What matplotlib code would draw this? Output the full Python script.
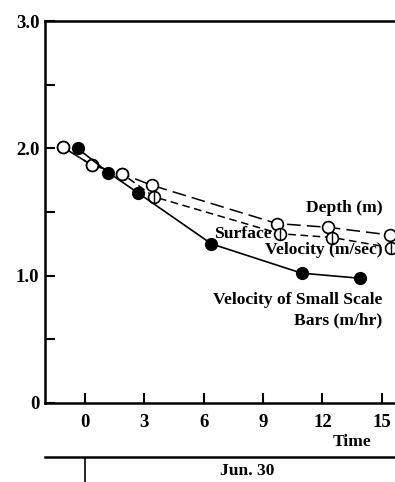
import matplotlib
matplotlib.use("Agg")
import matplotlib.pyplot as plt

plt.rcParams['font.family'] = ['Liberation Serif', 'DejaVu Serif']

# Depth (m) - open circles, long dashes
depth_t = [-1.1, 0.35, 1.9, 3.4, 9.7, 12.3, 15.4]
depth_v = [2.01, 1.87, 1.80, 1.71, 1.41, 1.38, 1.32]

# Surface velocity (m/sec) - barred open circles, short dashes
vel_t = [-1.1, 0.35, 1.9, 3.5, 9.85, 12.5, 15.45]
vel_v = [2.01, 1.87, 1.80, 1.62, 1.33, 1.30, 1.22]

# Velocity of small scale bars (m/hr) - filled circles, solid
bars_t = [-0.35, 1.2, 2.7, 6.4, 10.95, 13.9]
bars_v = [2.00, 1.81, 1.65, 1.25, 1.02, 0.98]

xticks = [0, 3, 6, 9, 12, 15]
yticks = [0, 1.0, 2.0, 3.0]
ytick_labels = ['0', '1.0', '2.0', '3.0']

fig = plt.figure(figsize=(3.95, 4.82), dpi=100)
ax = fig.add_axes([0.114, 0.164, 0.886, 0.792])

ax.plot(depth_t, depth_v, color='black', lw=1.1, ls=(0, (9, 4)),
        marker='o', ms=8.5, mfc='white', mec='black', mew=1.2, zorder=3)
ax.plot(vel_t, vel_v, color='black', lw=1.1, ls=(0, (5, 3)),
        marker='o', ms=8.5, mfc='white', mec='black', mew=1.2, zorder=3)
# vertical bar inside the surface-velocity circles
ax.plot(vel_t[3:], vel_v[3:], ls='none', marker='|', ms=8, mec='black', mew=1.0, zorder=4)
ax.plot(bars_t, bars_v, color='black', lw=1.2, ls='-',
        marker='o', ms=8.5, mfc='black', mec='black', zorder=3)

ax.set_xlim(-2.0, 15.66)
ax.set_ylim(0, 3.0)
ax.set_xticks(xticks)
ax.set_xticklabels([str(t) for t in xticks])
ax.set_yticks(yticks)
ax.set_yticklabels(ytick_labels)
ax.set_yticks([0.5, 1.5, 2.5], minor=True)
ax.tick_params(axis='both', which='both', direction='in', length=7, width=1.5,
               labelsize=13.5)
ax.tick_params(axis='x', pad=8)
ax.tick_params(axis='y', pad=4)
for lbl in ax.get_xticklabels() + ax.get_yticklabels():
    lbl.set_fontweight('bold')
ax.spines['right'].set_visible(False)
for s in ['left', 'bottom', 'top']:
    ax.spines[s].set_linewidth(1.8)

tk = dict(fontsize=12.6, fontweight='bold', color='black')
ax.text(15.05, 1.53, 'Depth (m)', ha='right', va='center', **tk)
ax.text(9.44, 1.33, 'Surface', ha='right', va='center', **tk)
ax.text(15.05, 1.20, 'Velocity (m/sec)', ha='right', va='center', **tk)
ax.text(15.0, 0.81, 'Velocity of Small Scale', ha='right', va='center', **tk)
ax.text(15.0, 0.65, 'Bars (m/hr)', ha='right', va='center', **tk)
ax.text(13.5, -0.31, 'Time', ha='center', va='center', clip_on=False, **tk)

# date strip under the chart
ax2 = fig.add_axes([0.114, 0.0, 0.886, 0.052])
ax2.set_xlim(-2.0, 15.66)
ax2.set_ylim(0, 1)
ax2.axvline(0, color='black', lw=1.2)
for s in ['left', 'right', 'bottom']:
    ax2.spines[s].set_visible(False)
ax2.spines['top'].set_linewidth(1.8)
ax2.set_xticks([])
ax2.set_yticks([])
ax2.text(8.2, 0.45, 'Jun. 30', ha='center', va='center', **tk)

fig.savefig('out.png', dpi=100)
